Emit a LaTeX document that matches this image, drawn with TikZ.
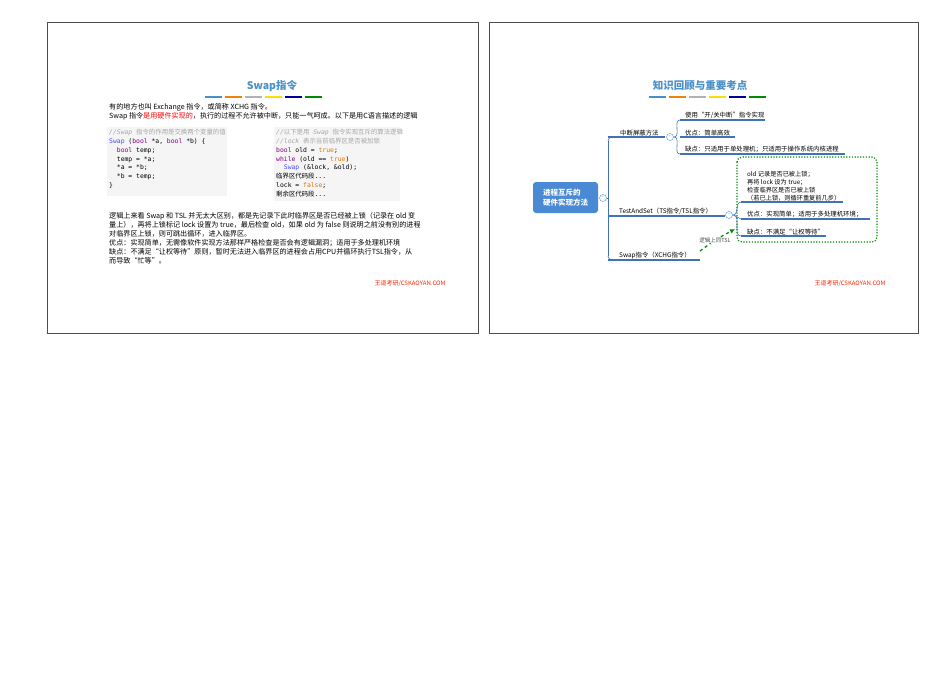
\documentclass[tikz,border=0pt]{standalone}
\usepackage{fontspec}
\usetikzlibrary{arrows.meta}
\setmainfont{Liberation Sans}
\newfontfamily\cjk{Noto Sans CJK SC}
\newfontfamily\mono{DejaVu Sans Mono}
\definecolor{tblue}{HTML}{4A90C8}
\definecolor{lblue}{HTML}{3F72B8}
\definecolor{rblue}{HTML}{4A8AD4}
\begin{document}
\begin{tikzpicture}[x=1pt,y=-1pt,
  slide/.style={draw=black!70,line width=0.6pt},
  ttl/.style={font=\cjk\fontsize{10.5}{11}\selectfont\bfseries,text=tblue},
  body/.style={font=\cjk\fontsize{7.1}{9}\selectfont,anchor=north west,inner sep=0,align=left},
  code/.style={font=\mono\fontsize{6.4}{8.8}\selectfont,anchor=north west,inner sep=0,align=left},
  codebox/.style={fill=black!4,draw=none},
  mm/.style={font=\cjk\fontsize{6.4}{7}\selectfont,anchor=south west,inner sep=1pt},
  ul/.style={draw=lblue,line width=1.6pt},
  br/.style={draw=lblue,line width=0.6pt},
  circ/.style={circle,draw=tblue,fill=white,minimum size=7pt,inner sep=0,font=\fontsize{5}{5}\selectfont,text=tblue},
  wm/.style={font=\cjk\fontsize{6}{7}\selectfont,text=red!70!orange}]
\useasboundingbox (0,0) rectangle (950,672);
\fill[white] (0,0) rectangle (950,672);
% slides
\draw[slide] (47,22) rectangle (478,333);
\draw[slide] (489,22) rectangle (918,333);
% color bars
\foreach \ox in {205,649}{
 \foreach \c [count=\i from 0] in {tblue,orange!80!brown,gray!60,yellow!80!orange,blue!60!black,green!55!black}
  \fill[\c] (\ox+\i*20,96) rectangle ++(17,2.2);}
% slide 1
\node[ttl] (t1) at (272,86) {Swap指令};
\node[body] (p1) at (109,103) {有的地方也叫 Exchange 指令，或简称 XCHG 指令。\\Swap 指令\textcolor{red}{是用硬件实现的}，执行的过程不允许被中断，只能一气呵成。以下是用C语言描述的逻辑};
\fill[codebox] (107,127) rectangle (227,196);
\fill[codebox] (274,127) rectangle (400,201);
\node[code] (c1) at (109,129) {\textcolor{gray!70}{\textit{//Swap {\cjk 指令的作用是交换两个变量的值}}}\\
\textcolor{blue!70}{Swap} (\textcolor{violet}{bool} *a, \textcolor{violet}{bool} *b) \{\\
\ \ \textcolor{violet}{bool} temp;\\
\ \ temp = *a;\\
\ \ *a = *b;\\
\ \ *b = temp;\\
\}};
\node[code] (c2) at (276,129) {\textcolor{gray!70}{\textit{//{\cjk 以下是用} Swap {\cjk 指令实现互斥的算法逻辑}}}\\
\textcolor{gray!70}{\textit{//lock {\cjk 表示当前临界区是否被加锁}}}\\
\textcolor{violet}{bool} old = \textcolor{orange!90!black}{true};\\
\textcolor{violet}{while} (old == \textcolor{orange!90!black}{true})\\
\ \ \textcolor{blue!70}{Swap} (\&lock, \&old);\\
{\cjk 临界区代码段}...\\
lock = \textcolor{orange!90!black}{false};\\
{\cjk 剩余区代码段}...};
\node[body] (p2) at (109,212) {逻辑上来看 Swap 和 TSL 并无太大区别，都是先记录下此时临界区是否已经被上锁（记录在 old 变\\量上），再将上锁标记 lock 设置为 true，最后检查 old，如果 old 为 false 则说明之前没有别的进程\\对临界区上锁，则可跳出循环，进入临界区。\\优点：实现简单，无需像软件实现方法那样严格检查是否会有逻辑漏洞；适用于多处理机环境\\缺点：不满足“让权等待”原则，暂时无法进入临界区的进程会占用CPU并循环执行TSL指令，从\\而导致“忙等”。};
\node[wm,anchor=east] (w1) at (449,283) {王道考研/CSKAOYAN.COM};
% slide 2
\node[ttl] (t2) at (700,86) {知识回顾与重要考点};
\node[wm,anchor=east] (w2) at (889,283) {王道考研/CSKAOYAN.COM};
\node[fill=rblue,rounded corners=3pt,minimum width=65pt,minimum height=31pt,text=white,font=\cjk\fontsize{7.5}{10}\selectfont\bfseries,align=left] (root) at (565.5,197.5) {进程互斥的\\硬件实现方法};
\node[circ] (rc) at (603,198) {-};
\coordinate (tr) at (608,198);
% level1
\node[mm] (a) at (619,137) {中断屏蔽方法};
\node[mm] (b) at (618,216) {TestAndSet（TS指令/TSL指令）};
\node[mm] (c) at (618,260) {Swap指令（XCHG指令）};
\draw[ul] (608,137) -- (665,137);
\draw[ul] (608,216) -- (725,216);
\draw[ul] (608,260) -- (700,260);
\draw[br] (rc) -- (tr) (608,141) -- (608,256);
\draw[br] (608,141) to[out=90,in=180] (612,137);
\draw[br] (608,256) to[out=-90,in=180] (612,260);
\node[circ] (ac) at (670,137) {-};
\node[circ] (bc) at (729,215) {-};
% a children
\node[mm] (a1) at (684,120) {使用“开/关中断”指令实现};
\node[mm] (a2) at (684,137) {优点：简单高效};
\node[mm] (a3) at (684,154) {缺点：只适用于单处理机；只适用于操作系统内核进程};
\draw[ul] (680,120) -- (765,120);
\draw[ul] (680,137) -- (735,137);
\draw[ul] (680,154) -- (845,154);
\draw[br] (ac) -- (674,137) (674,137) to[out=0,in=180] (680,120) (674,137) to[out=0,in=180] (680,154);
% b children
\draw[draw=green!55!black,line width=1.2pt,dash pattern=on 1.2pt off 1.6pt,rounded corners=5pt] (737,157) rectangle (877,242);
\node[mm,align=left,font=\cjk\fontsize{6.2}{8}\selectfont] (b1) at (746,202) {old 记录是否已被上锁；\\再将 lock 设为 true；\\检查临界区是否已被上锁\\（若已上锁，则循环重复前几步）};
\node[mm] (b2) at (746,219) {优点：实现简单；适用于多处理机环境；};
\node[mm] (b3) at (746,236) {缺点：不满足“让权等待”};
\draw[ul] (741,202) -- (843,202);
\draw[ul] (741,219) -- (870,219);
\draw[ul] (741,236) -- (826,236);
\draw[br] (bc) -- (733,215) (733,215) to[out=0,in=180] (741,202) (733,215) -- (741,219) (733,215) to[out=0,in=180] (741,236);
% arrow
\node[font=\cjk\fontsize{5.5}{6}\selectfont,text=black!70,fill=white,inner sep=0.5pt] (lbl) at (715,240) {逻辑上同TSL};
\coordinate (as) at (700,251);
\coordinate (ae) at (735,229);
\draw[green!55!black,line width=1.3pt,dashed] (as) -- (lbl);
\draw[green!55!black,line width=1.3pt,dashed,-{Latex[length=5pt,width=5pt]}] (lbl) -- (ae);
\end{tikzpicture}
\end{document}
